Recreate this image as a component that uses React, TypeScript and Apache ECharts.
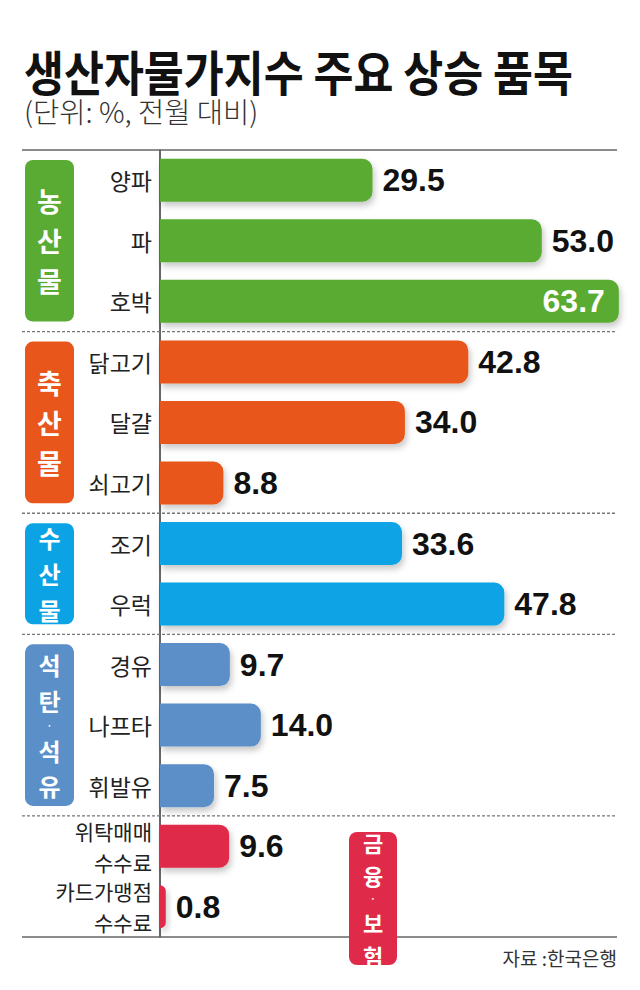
import React, { useEffect, useRef } from "react";
import * as echarts from "echarts";

// ---- data ----
const title = "생산자물가지수 주요 상승 품목";
const subtitle = "(단위: %, 전월 대비)";
const source = "자료 :한국은행";
const categories = [
  "양파", "파", "호박",
  "닭고기", "달걀", "쇠고기",
  "조기", "우럭",
  "경유", "나프타", "휘발유",
  "위탁매매\n수수료", "카드가맹점\n수수료",
];
const values = [29.5, 53.0, 63.7, 42.8, 34.0, 8.8, 33.6, 47.8, 9.7, 14.0, 7.5, 9.6, 0.8];
const groupNames = ["농산물", "축산물", "수산물", "석탄·석유", "금융·보험"];
const groupSizes = [3, 3, 2, 3, 2];
const groupColors = ["#5aab33", "#e8561b", "#0ba3e4", "#5b8fc8", "#e02a4a"];

// ---- layout ----
const W = 640;
const H = 990;
const GRID_LEFT = 160;
const GRID_TOP = 150;
const GRID_H = 787;
const GRID_W = 461;
const X_MAX = 64;
const LINE_L = 22;
const LINE_R = 617;
const groupFont = [27, 27, 24, 24, 22];
const KFONT = "'Noto Sans CJK KR', 'Noto Sans', sans-serif";
const NFONT = "'Liberation Sans', 'Roboto', sans-serif";

function stackedText(chars: string, cx: number, cy: number, color: string, size: number) {
  const list = Array.from(chars);
  const dotSize = 9;
  const sizes = list.map((c) => (c === "·" ? dotSize : size));
  const boxes = sizes.map((s) => s * 1.45);
  const incs: number[] = [];
  for (let i = 1; i < list.length; i++) {
    incs.push(boxes[i] / 2 + boxes[i - 1] / 2 + 1);
  }
  const total = incs.reduce((a, b) => a + b, 0);
  let y = cy - total / 2;
  const els: any[] = [];
  list.forEach((ch, i) => {
    els.push({
      type: "text",
      z: 20,
      x: cx,
      y,
      style: {
        text: ch,
        fill: color,
        fontSize: sizes[i],
        fontWeight: "bold",
        fontFamily: KFONT,
        textAlign: "center",
        textVerticalAlign: "middle",
      },
    });
    if (i < incs.length) y += incs[i];
  });
  return els;
}

export default function App() {
  const ref = useRef<HTMLDivElement>(null);
  useEffect(() => {
    if (!ref.current) return;
    const chart = echarts.init(ref.current, null, { renderer: "svg" });
    const n = categories.length;
    const band = GRID_H / n;

    const groupOf: number[] = [];
    groupSizes.forEach((s, g) => {
      for (let i = 0; i < s; i++) groupOf.push(g);
    });

    const data = values.map((v, i) => {
      const item: any = {
        value: v,
        itemStyle: { color: groupColors[groupOf[i]] },
      };
      if (v > 60) {
        item.label = { position: "insideRight", distance: 14, color: "#ffffff" };
      }
      return item;
    });

    const graphics: any[] = [];
    graphics.push({
      type: "text",
      x: 24,
      y: 70,
      scaleX: 0.905,
      style: {
        text: title,
        fill: "#111",
        fontSize: 48,
        fontWeight: "bold",
        fontFamily: KFONT,
        textAlign: "left",
        textVerticalAlign: "middle",
      },
    });
    graphics.push({
      type: "text",
      x: 24,
      y: 111,
      scaleX: 1.02,
      style: {
        text: subtitle,
        fill: "#333",
        fontSize: 28,
        fontWeight: 300,
        fontFamily: KFONT,
        textAlign: "left",
        textVerticalAlign: "middle",
      },
    });
    // top and bottom rules
    graphics.push({
      type: "line",
      z: 1,
      shape: { x1: LINE_L, y1: GRID_TOP, x2: LINE_R, y2: GRID_TOP },
      style: { stroke: "#666", lineWidth: 1.5 },
    });
    graphics.push({
      type: "line",
      z: 1,
      shape: { x1: LINE_L, y1: GRID_TOP + GRID_H, x2: LINE_R, y2: GRID_TOP + GRID_H },
      style: { stroke: "#666", lineWidth: 1.5 },
    });
    // group separators and boxes
    let start = 0;
    groupSizes.forEach((s, g) => {
      const y0 = GRID_TOP + start * band;
      const y1 = GRID_TOP + (start + s) * band;
      if (g > 0) {
        graphics.push({
          type: "line",
          z: 1,
          shape: { x1: LINE_L, y1: y0, x2: LINE_R, y2: y0 },
          style: { stroke: "#777", lineWidth: 1.3, lineDash: [3, 2] },
        });
      }
      let bx: number, bw: number, by: number, bh: number;
      if (g < groupSizes.length - 1) {
        bx = 25; bw = 49; by = y0 + 10; bh = y1 - y0 - 20;
      } else {
        bx = 349; bw = 48; by = 832; bh = 133;
      }
      graphics.push({
        type: "rect",
        z: 10,
        shape: { x: bx, y: by, width: bw, height: bh, r: 8 },
        style: { fill: groupColors[g] },
      });
      graphics.push(...stackedText(groupNames[g], bx + bw / 2, by + bh / 2, "#fff", groupFont[g]));
      start += s;
    });
    graphics.push({
      type: "text",
      x: LINE_R,
      y: 957,
      style: {
        text: source,
        fill: "#333",
        fontSize: 19,
        fontFamily: KFONT,
        textAlign: "right",
        textVerticalAlign: "middle",
      },
    });

    chart.setOption({
      animation: false,
      backgroundColor: "#ffffff",
      grid: { left: GRID_LEFT, top: GRID_TOP, width: GRID_W, height: GRID_H, containLabel: false },
      xAxis: {
        type: "value",
        min: 0,
        max: X_MAX,
        show: false,
        splitLine: { show: false },
      },
      yAxis: {
        type: "category",
        data: categories,
        inverse: true,
        axisTick: { show: false },
        axisLine: { show: true, lineStyle: { color: "#333", width: 1.5 } },
        axisLabel: {
          margin: 8,
          fontSize: 23,
          color: "#222",
          fontFamily: KFONT,
          align: "right",
          formatter: (v: string) =>
            v.includes("\n") ? v.split("\n").map((s) => `{m|${s}}`).join("\n") : v,
          rich: {
            m: { fontSize: 21, lineHeight: 31, color: "#222", fontFamily: KFONT, align: "right" },
          },
        },
        splitLine: { show: false },
      },
      series: [
        {
          type: "bar",
          data,
          barWidth: 43,
          z: 5,
          itemStyle: {
            borderRadius: [0, 10, 10, 0],
            shadowColor: "rgba(0,0,0,0.22)",
            shadowBlur: 6,
            shadowOffsetX: 2,
            shadowOffsetY: 4,
          },
          label: {
            show: true,
            position: "right",
            distance: 10,
            formatter: (p: any) => Number(p.value).toFixed(1),
            fontSize: 32,
            fontWeight: "bold",
            fontFamily: NFONT,
            color: "#111",
          },
        },
      ],
      graphic: graphics,
    });
    return () => chart.dispose();
  }, []);
  return (
    <div
      ref={ref}
      style={{ position: "absolute", left: 0, top: 0, width: W, height: H, background: "#fff" }}
    />
  );
}
